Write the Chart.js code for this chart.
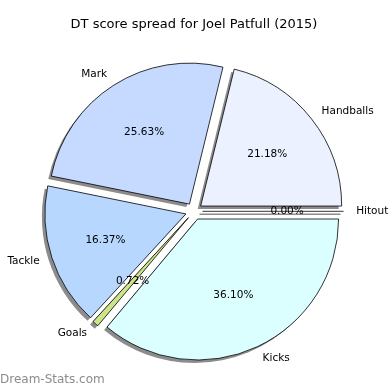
<!DOCTYPE html>
<html>
<head>
<meta charset="utf-8">
<script src="https://cdn.jsdelivr.net/npm/chart.js@4"></script>
<style>
  html, body { margin: 0; padding: 0; background: #fff; }
  canvas { display: block; }
</style>
</head>
<body>
<canvas id="pie" width="390" height="390"></canvas>
<script>
// Data (clockwise from 3 o'clock, as drawn)
const categories = ['Kicks', 'Goals', 'Tackle', 'Mark', 'Handballs', 'Hitout'];
const percents = [36.10, 0.72, 16.37, 25.63, 21.18, 0.00];
const sliceColors = ['#dbffff', '#cde58a', '#b7d7ff', '#c6daff', '#ebf1ff', '#ffffff'];

const EXPLODE = 8.5;       // px each slice is pushed out
const SHADOW_DX = -3;
const SHADOW_DY = 3;
const LABEL_FONT = '10.5px "DejaVu Sans"';

// Push every wedge out from the centre along its mid angle
const explodePlugin = {
    id: 'explode',
    afterDatasetUpdate(chart) {
        chart.getDatasetMeta(0).data.forEach(arc => {
            const mid = (arc.startAngle + arc.endAngle) / 2;
            arc.x += Math.cos(mid) * EXPLODE;
            arc.y += Math.sin(mid) * EXPLODE;
        });
    }
};

// Grey drop shadows under the wedges
const shadowPlugin = {
    id: 'shadows',
    beforeDatasetsDraw(chart) {
        const ctx = chart.ctx;
        ctx.save();
        ctx.fillStyle = '#8c8c8c';
        ctx.strokeStyle = '#8c8c8c';
        chart.getDatasetMeta(0).data.forEach(arc => {
            const x = arc.x + SHADOW_DX, y = arc.y + SHADOW_DY;
            if (arc.endAngle - arc.startAngle <= 0) {
                ctx.lineWidth = 1.5;
                ctx.beginPath();
                ctx.moveTo(x, y);
                ctx.lineTo(x + Math.cos(arc.startAngle) * arc.outerRadius, y + Math.sin(arc.startAngle) * arc.outerRadius);
                ctx.stroke();
                return;
            }
            ctx.beginPath();
            ctx.moveTo(x, y);
            ctx.arc(x, y, arc.outerRadius, arc.startAngle, arc.endAngle);
            ctx.closePath();
            ctx.fill();
        });
        ctx.restore();
    },
    afterDatasetsDraw(chart) {
        const ctx = chart.ctx;
        const meta = chart.getDatasetMeta(0);
        ctx.save();
        // zero-size wedge shows up as a single edge line
        meta.data.forEach(arc => {
            if (arc.endAngle - arc.startAngle > 0) return;
            ctx.strokeStyle = '#000';
            ctx.lineWidth = 0.8;
            ctx.beginPath();
            ctx.moveTo(arc.x, arc.y);
            ctx.lineTo(arc.x + Math.cos(arc.startAngle) * arc.outerRadius, arc.y + Math.sin(arc.startAngle) * arc.outerRadius);
            ctx.stroke();
        });

        // category labels and percentages
        ctx.font = LABEL_FONT;
        ctx.fillStyle = '#000';
        ctx.textBaseline = 'middle';
        meta.data.forEach((arc, i) => {
            const mid = (arc.startAngle + arc.endAngle) / 2;
            const c = Math.cos(mid), s = Math.sin(mid);
            const R = arc.outerRadius;
            ctx.textAlign = c >= 0 ? 'left' : 'right';
            ctx.fillText(categories[i], arc.x + c * R * 1.09, arc.y + s * R * 1.09);
            ctx.textAlign = 'center';
            ctx.fillText(percents[i].toFixed(2) + '%', arc.x + c * R * 0.6, arc.y + s * R * 0.6);
        });
        ctx.restore();
    },
    afterDraw(chart) {
        const ctx = chart.ctx;
        ctx.save();
        ctx.font = '12px "DejaVu Sans"';
        ctx.fillStyle = '#8c8c8c';
        ctx.textAlign = 'left';
        ctx.textBaseline = 'middle';
        ctx.fillText('Dream-Stats.com', 0, 380);
        ctx.restore();
    }
};

new Chart(document.getElementById('pie'), {
    type: 'pie',
    data: {
        labels: categories,
        datasets: [{
            data: percents,
            backgroundColor: sliceColors,
            borderColor: '#000',
            borderWidth: 0.8,
            hoverOffset: 0
        }]
    },
    options: {
        responsive: false,
        animation: false,
        events: [],
        rotation: 90,
        radius: 141,
        layout: { padding: { top: 0, bottom: 0, left: 0, right: 2 } },
        plugins: {
            legend: { display: false },
            tooltip: { enabled: false },
            title: {
                display: true,
                text: 'DT score spread for Joel Patfull (2015)',
                color: '#000',
                font: { family: 'DejaVu Sans', size: 13, weight: 'normal', lineHeight: 1.2 },
                padding: { top: 17, bottom: 0 }
            }
        }
    },
    plugins: [explodePlugin, shadowPlugin]
});
</script>
</body>
</html>
